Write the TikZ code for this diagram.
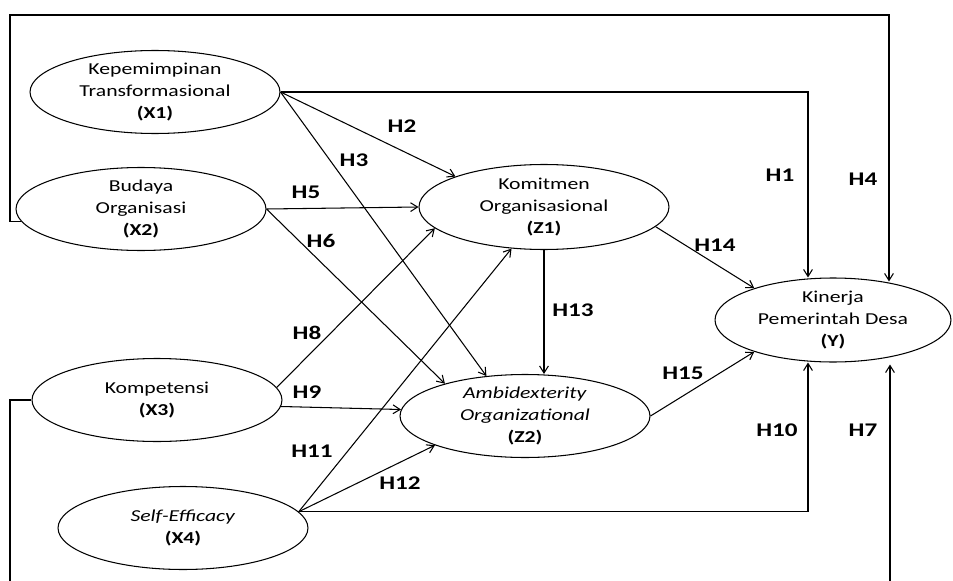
\documentclass[tikz,border=0pt]{standalone}
\usepackage{fontspec}
\setmainfont[FakeStretch=1.3]{Carlito}
\usetikzlibrary{shapes, arrows.meta}

\begin{document}
\begin{tikzpicture}[x=0.02cm, y=-0.02cm,
  var/.style={ellipse, draw, line width=0.6pt, inner xsep=0pt, inner ysep=-8pt, align=center, font=\fontsize{9.5}{12.75}\selectfont},
  hyp/.style={font=\fontsize{11}{13}\selectfont\bfseries, inner sep=0pt},
  arr/.style={line width=0.6pt, -{Straight Barb[length=4pt, width=5pt]}}]
  \newcommand\varellwidth{5cm}
  \newcommand\varellheight{1.66cm}
  \useasboundingbox (0,0) rectangle (953,581);

  % latent variables
  \node[var, minimum width=\varellwidth, minimum height=\varellheight] (x1) at (155,92) {Kepemimpinan\\Transformasional\\\textbf{(X1)}};
  \node[var, minimum width=\varellwidth, minimum height=\varellheight] (x2) at (141,209) {Budaya\\Organisasi\\\textbf{(X2)}};
  \node[var, minimum width=\varellwidth, minimum height=\varellheight] (x3) at (157,400) {Kompetensi\\\textbf{(X3)}};
  \node[var, minimum width=\varellwidth, minimum height=\varellheight] (x4) at (183,528) {\textit{Self-Efficacy}\\\textbf{(X4)}};
  \node[var, minimum width=\varellwidth, minimum height=1.7cm] (z1) at (544,207) {Komitmen\\Organisasional\\\textbf{(Z1)}};
  \node[var, minimum width=\varellwidth, minimum height=\varellheight] (z2) at (525,416) {\textit{Ambidexterity}\\\textit{Organizational}\\\textbf{(Z2)}};
  \node[var, minimum width=4.72cm, minimum height=1.68cm] (y) at (833,320) {Kinerja\\Pemerintah Desa\\\textbf{(Y)}};

  \coordinate (ctop) at (10,15);
  \coordinate (cbot) at (10,600);

  % paths
  \draw[arr] (x1.east) -| ([xshift=-0.5cm]y.north);
  \draw[arr] (x1.east) -- (z1.161);
  \draw[arr] (x1.east) -- (z2.134);
  \draw[arr] (x2.186) -| (ctop) -| ([xshift=1.12cm, yshift=-0.08cm]y.north);
  \draw[arr] (x2.east) -- (z1.west);
  \draw[arr] (x2.east) -- (z2.158);
  \draw[arr] (x3.west) -| (cbot) -| ([xshift=1.14cm, yshift=-0.04cm]y.south);
  \draw[arr] (x3.6) -- (z1.191);
  \draw[arr] (x3.-3) -- (z2.177);
  \draw[arr] (x4.8) -| ([xshift=-0.5cm]y.south);
  \draw[arr] (x4.8) -- (z1.232);
  \draw[arr] (x4.8) -- (z2.198);
  \draw[arr] (z1.south) -- (z2.north -| z1.south);
  \draw[arr] (z1.-10) -- (y.158);
  \draw[arr] (z2.east) -- (y.202);

  \foreach \hname/\hx/\hy in {H1/780/175, H2/402/126, H3/354/160, H4/863/179, H5/306/192,
      H6/321/241, H7/863/430, H8/307/333, H9/307/392, H10/777/430, H11/312/451,
      H12/400/483, H13/573/310, H14/715/245, H15/683/373}
    \node[hyp] (lbl\hname) at (\hx,\hy) {\hname};
\end{tikzpicture}
\end{document}
